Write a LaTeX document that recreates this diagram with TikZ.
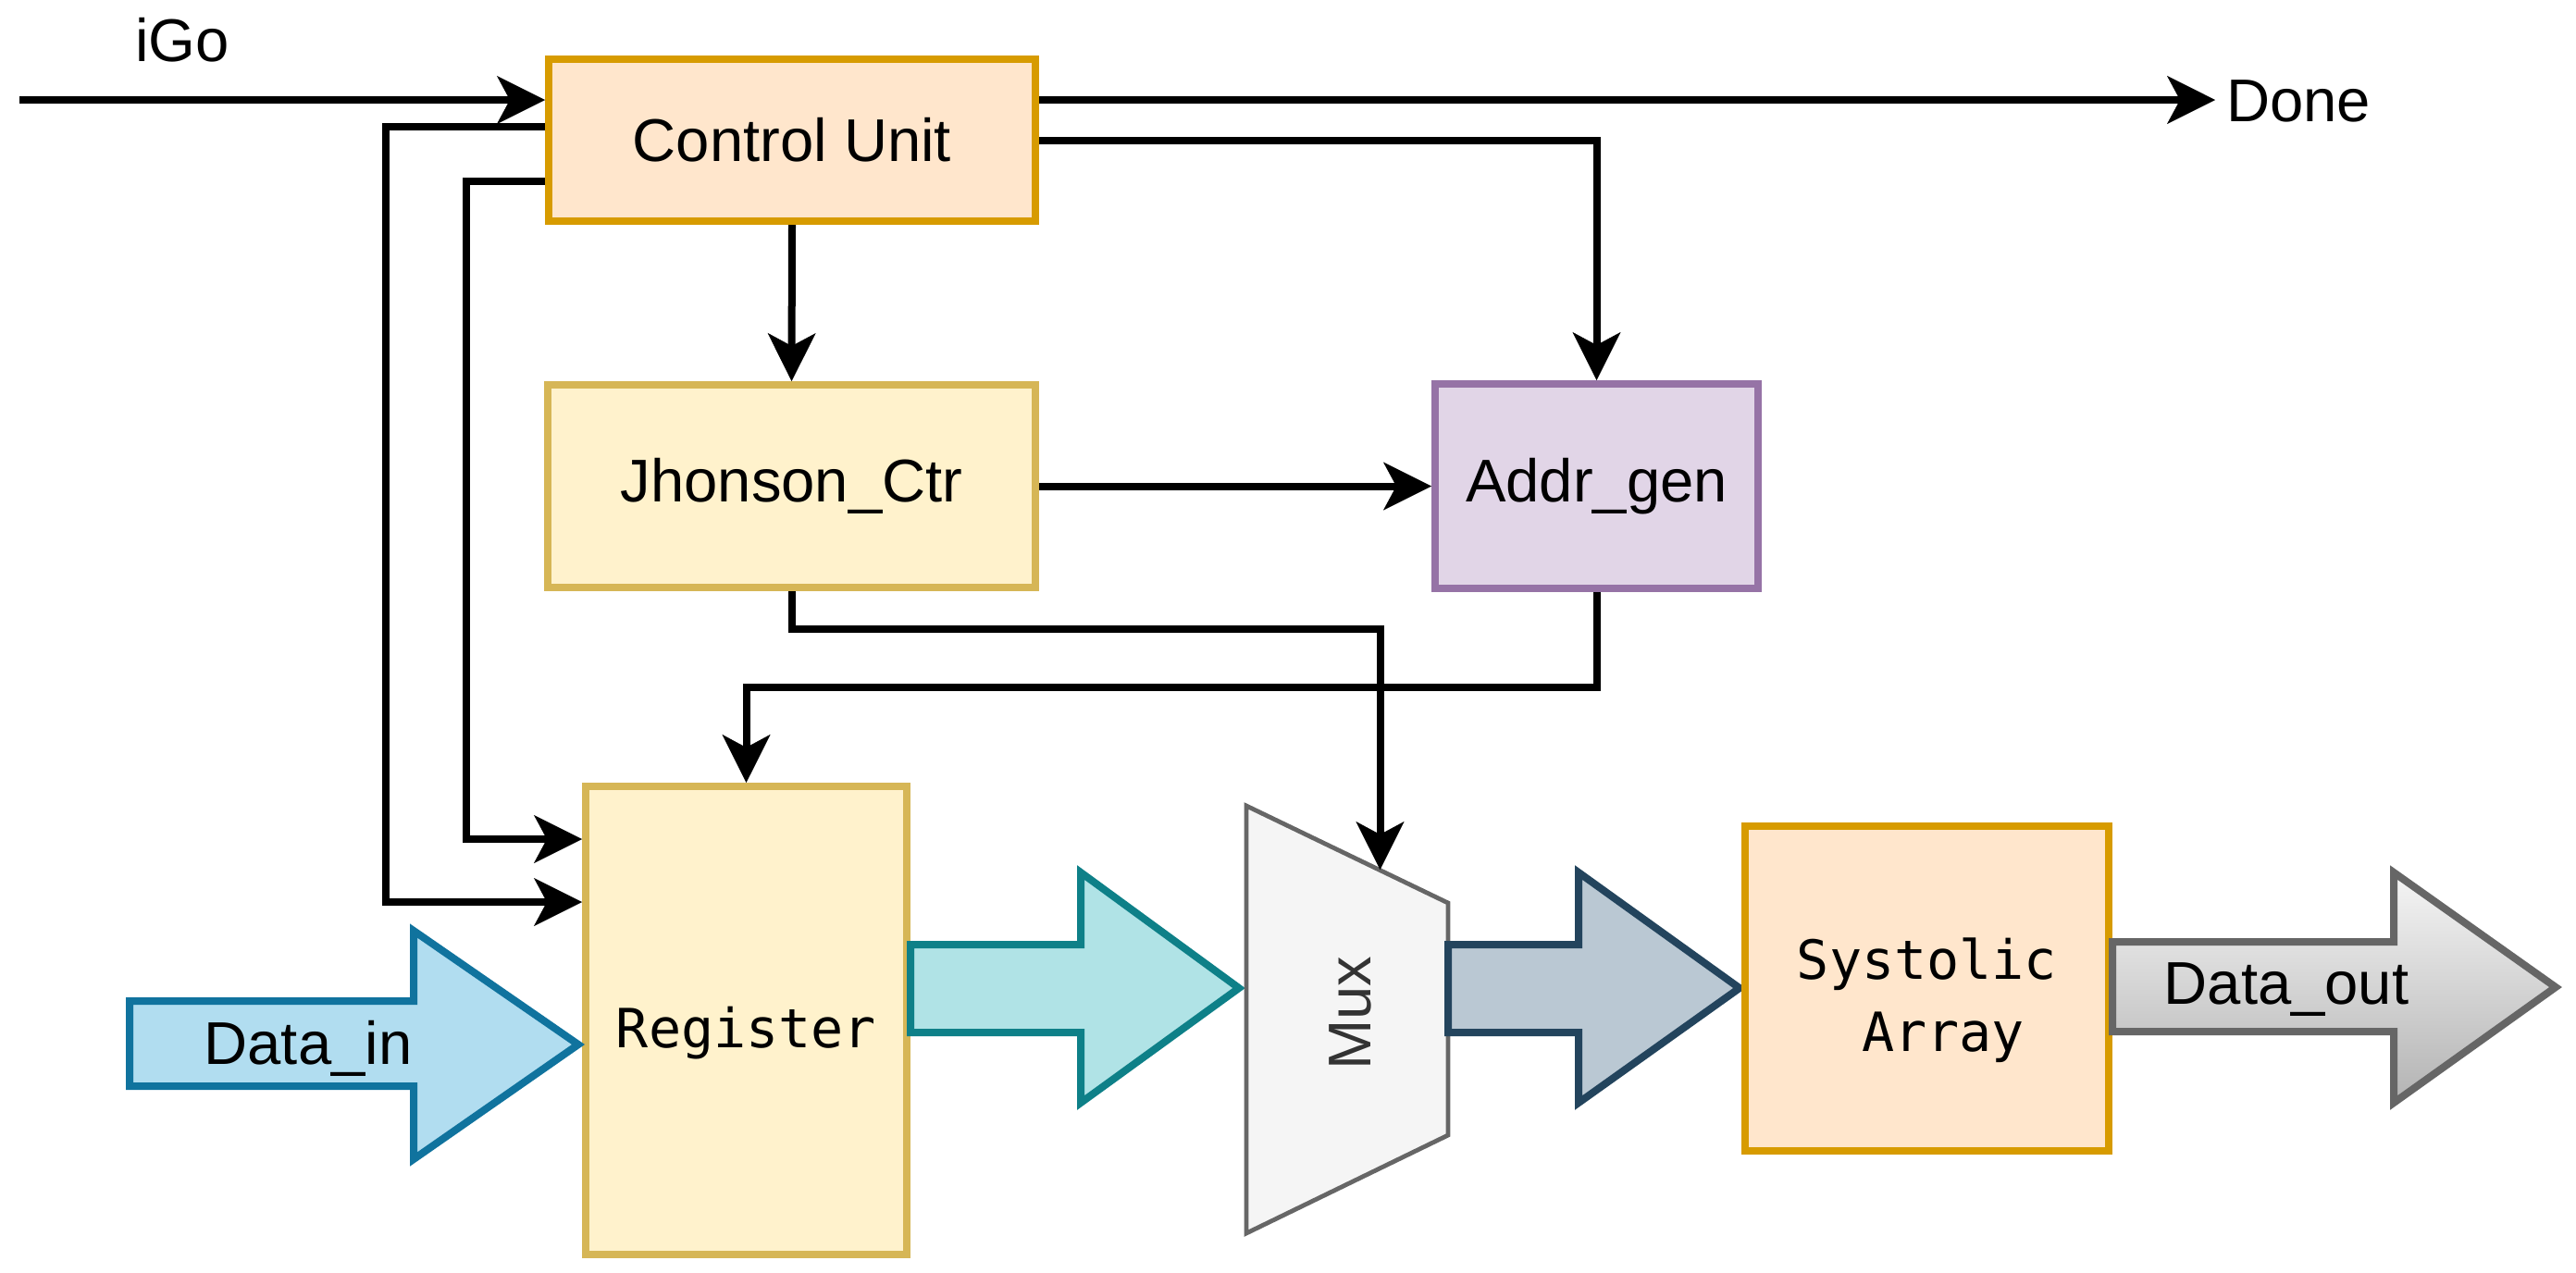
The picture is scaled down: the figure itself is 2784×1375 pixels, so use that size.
\documentclass[tikz,border=0pt]{standalone}
\usepackage{fontspec}
\setmainfont{Liberation Sans}
\newfontfamily\monofnt{DejaVu Sans Mono}
\usetikzlibrary{arrows.meta,calc}
\definecolor{cuFill}{HTML}{FFE6CC}
\definecolor{cuLine}{HTML}{D79B00}
\definecolor{jhFill}{HTML}{FFF2CC}
\definecolor{jhLine}{HTML}{D6B656}
\definecolor{agFill}{HTML}{E1D5E7}
\definecolor{agLine}{HTML}{9673A6}
\definecolor{dinFill}{HTML}{B1DDF0}
\definecolor{dinLine}{HTML}{10739E}
\definecolor{tealFill}{HTML}{B0E3E6}
\definecolor{tealLine}{HTML}{0E8088}
\definecolor{muxFill}{HTML}{F5F5F5}
\definecolor{muxLine}{HTML}{666666}
\definecolor{muxText}{HTML}{333333}
\definecolor{darkFill}{HTML}{BAC8D3}
\definecolor{darkLine}{HTML}{23445D}
\definecolor{outTop}{HTML}{F5F5F5}
\definecolor{outBot}{HTML}{B3B3B3}
\newcommand\sansfnt{\fontsize{16.3}{19.5}\selectfont}
\newcommand\monotext{\monofnt\fontsize{14.6}{19.4}\selectfont}
\begin{document}
\begin{tikzpicture}[x=0.25pt,y=-0.25pt,
  box/.style={draw, line width=2pt, inner sep=0pt, font=\sansfnt},
  blockarrow/.style={line width=2pt, line join=miter},
  conn/.style={line width=2pt, -{Stealth[length=13pt,width=13pt,inset=3.5pt,line width=0.1pt]}},
  lbl/.style={font=\sansfnt, inner sep=0pt}]
\useasboundingbox (0,0) rectangle (2784,1375);

% boxes
\node[box, draw=cuLine, fill=cuFill, minimum width=131.5pt, minimum height=43.75pt] (cu) at (856,151.5) {Control Unit};
\node[box, draw=jhLine, fill=jhFill, minimum width=131.75pt, minimum height=54.75pt] (jh) at (855.5,525.5) {Jhonson\_Ctr};
\node[box, draw=agLine, fill=agFill, minimum width=87.25pt, minimum height=55.25pt] (ag) at (1725.5,525.5) {Addr\_gen};
\node[box, draw=jhLine, fill=jhFill, minimum width=86.75pt, minimum height=126.4pt, font=\monotext, text height=18pt, text depth=3.1pt] (reg) at (806.5,1102.75) {Register};

% block arrows
\draw[blockarrow, draw=dinLine, fill=dinFill] (140,1082) -- (447,1082) -- (447,1006) -- (625,1129) -- (447,1253) -- (447,1174) -- (140,1174) -- cycle;
\node[lbl] (din) at (333,1133) {Data\_in};

\draw[blockarrow, draw=tealLine, fill=tealFill] (984,1021) -- (1168,1021) -- (1168,943) -- (1339,1068) -- (1168,1192) -- (1168,1116) -- (984,1116) -- cycle;

\draw[line width=1.2pt, draw=muxLine, fill=muxFill] (1347,871) -- (1565,976) -- (1565,1227) -- (1347,1333) -- cycle;
\node[lbl, rotate=90, text=muxText] (muxl) at (1459,1095) {Mux};
\coordinate (muxin) at (1491.5,940);

\draw[blockarrow, draw=darkLine, fill=darkFill] (1565,1021) -- (1706,1021) -- (1706,943) -- (1880,1068) -- (1706,1192) -- (1706,1116) -- (1565,1116) -- cycle;

\node[box, draw=cuLine, fill=cuFill, minimum width=98.25pt, minimum height=87.75pt] (sys) at (2082.5,1068.5) {};
\node[font=\monotext, align=center, inner sep=0pt] (sysl) at ($(sys.center)+(0,13)$) {Systolic\\\hphantom{x}Array};

\path[blockarrow, draw=muxLine, top color=outTop, bottom color=outBot] (2283,1018) -- (2587,1018) -- (2587,943) -- (2762,1067) -- (2587,1192) -- (2587,1115) -- (2283,1115) -- cycle;
\node[lbl] (dout) at (2471,1069.5) {Data\_out};

% labels
\node[lbl] (igol) at (197,43.5) {iGo};
\node[lbl] (donel) at (2484,109) {Done};

% connectors
\coordinate (igo) at (21,108);
\draw[conn] (igo) -- (igo -| cu.west);
\coordinate (doneend) at (2394,108);
\draw[conn] (doneend -| cu.east) -- (doneend);
\draw[conn] (cu.east) -| (ag.north);
\draw[conn] (cu.south) -- (jh.north);
\draw[conn] (jh.east) -- (ag.west);
\coordinate (jhbend) at (855.5,680);
\draw[conn] (jh.south) -- (jh.south |- jhbend) -| (muxin);
\coordinate (agbend) at (0,743);
\draw[conn] (ag.south) -- (ag.south |- agbend) -| (reg.north);
\coordinate (l1) at (417,975);
\coordinate (l1s) at (0,137);
\draw[conn] (cu.west |- l1s) -| (l1) -- (l1 -| reg.west);
\coordinate (l2) at (504,907);
\coordinate (l2s) at (0,196);
\draw[conn] (cu.west |- l2s) -| (l2) -- (l2 -| reg.west);
\end{tikzpicture}
\end{document}
